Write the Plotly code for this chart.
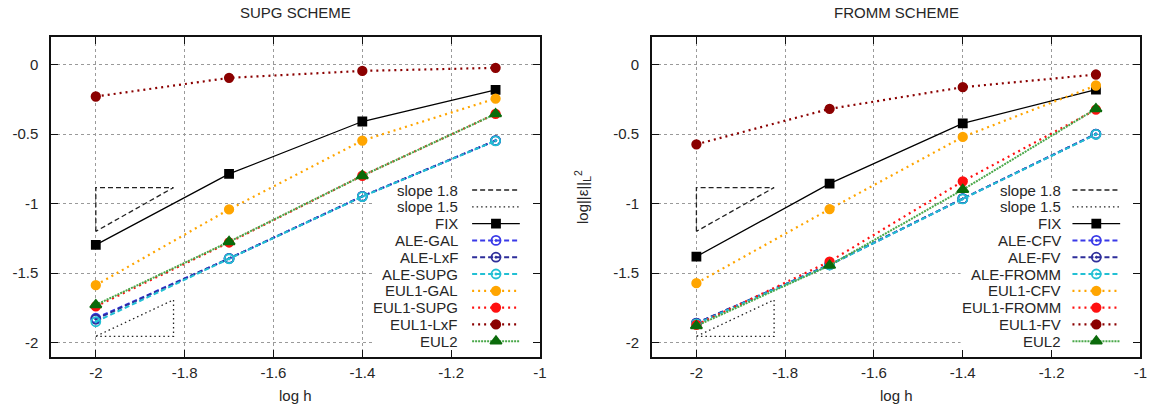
import plotly.graph_objects as go

# ---------------- data ----------------
log_h = [-2.0, -1.7, -1.4, -1.1]

supg_labels = ["FIX", "ALE-GAL", "ALE-LxF", "ALE-SUPG", "EUL1-GAL", "EUL1-SUPG", "EUL1-LxF", "EUL2"]
supg_fix = [-1.297, -0.787, -0.410, -0.182]
supg_ale_gal = [-1.825, -1.395, -0.948, -0.547]
supg_ale_lxf = [-1.832, -1.395, -0.948, -0.547]
supg_ale_supg = [-1.850, -1.397, -0.950, -0.549]
supg_eul1_gal = [-1.587, -1.042, -0.547, -0.245]
supg_eul1_supg = [-1.740, -1.280, -0.800, -0.355]
supg_eul1_lxf = [-0.230, -0.096, -0.046, -0.024]
supg_eul2 = [-1.729, -1.275, -0.800, -0.355]

fromm_labels = ["FIX", "ALE-CFV", "ALE-FV", "ALE-FROMM", "EUL1-CFV", "EUL1-FROMM", "EUL1-FV", "EUL2"]
fromm_fix = [-1.381, -0.857, -0.423, -0.180]
fromm_ale_cfv = [-1.860, -1.440, -0.965, -0.500]
fromm_ale_fv = [-1.860, -1.440, -0.965, -0.500]
fromm_ale_fromm = [-1.865, -1.442, -0.967, -0.502]
fromm_eul1_cfv = [-1.573, -1.040, -0.521, -0.151]
fromm_eul1_fromm = [-1.873, -1.417, -0.840, -0.324]
fromm_eul1_fv = [-0.574, -0.319, -0.163, -0.072]
fromm_eul2 = [-1.880, -1.445, -0.900, -0.319]

slope_labels = ["slope 1.8", "slope 1.5"]
slope_values = [1.8, 1.5]
slope_anchor_x = -2.0
slope_run = 0.175
slope18_top_y = -0.885
slope15_bottom_y = -1.955

x_tick_vals = [-2.0, -1.8, -1.6, -1.4, -1.2, -1.0]
x_tick_text = ["-2", "-1.8", "-1.6", "-1.4", "-1.2", "-1"]
y_tick_vals = [0.0, -0.5, -1.0, -1.5, -2.0]
y_tick_text = ["0", "-0.5", "-1", "-1.5", "-2"]

titles = ["SUPG SCHEME", "FROMM SCHEME"]
x_title = "log h"
y_title = "log||ε||<sub>L</sub><sup>2</sup>"

# ---------------- styles ----------------
W, H = 1153, 405
FONT = "Liberation Sans, Arial, sans-serif"
FS = 15
TFS = 15
TXT = "#262626"

styles = [
    dict(color="#000000", dash="solid", width=1.3, symbol="square", msize=8, mcolor="#000000"),
    dict(color="#3a3ae8", dash="5px,3px", width=2, symbol="circle-open-dot", msize=9, mcolor="#3a3ae8"),
    dict(color="#2e2e9a", dash="5px,3px", width=2, symbol="circle-open-dot", msize=9, mcolor="#2e2e9a"),
    dict(color="#22c0d4", dash="5px,3px", width=2, symbol="circle-open-dot", msize=9, mcolor="#22c0d4"),
    dict(color="#ffa500", dash="2px,4px", width=2.2, symbol="circle", msize=8.5, mcolor="#ffa500"),
    dict(color="#ff1010", dash="2px,4px", width=2.2, symbol="circle", msize=8.5, mcolor="#ff1010"),
    dict(color="#8b0000", dash="2px,4px", width=2.2, symbol="circle", msize=8.5, mcolor="#8b0000"),
    dict(color="#4aa84a", dash="2px,1px", width=2, symbol="triangle-up", msize=10, mcolor="#0b6b0b"),
]
slope_styles = [dict(color="#222222", dash="5px,3px", width=1.3),
                dict(color="#222222", dash="1.5px,3px", width=1.3)]

panels = [
    dict(xa="x", ya="y", labels=supg_labels,
         series=[supg_fix, supg_ale_gal, supg_ale_lxf, supg_ale_supg,
                 supg_eul1_gal, supg_eul1_supg, supg_eul1_lxf, supg_eul2],
         xdom=(51.7, 543.3), key_text_x=463, key_s0=475, key_s1=523, key_box_x0=-1.378),
    dict(xa="x2", ya="y2", labels=fromm_labels,
         series=[fromm_fix, fromm_ale_cfv, fromm_ale_fv, fromm_ale_fromm,
                 fromm_eul1_cfv, fromm_eul1_fromm, fromm_eul1_fv, fromm_eul2],
         xdom=(656.0, 1147.3), key_text_x=1069, key_s0=1079, key_s1=1127, key_box_x0=-1.405),
]
ydom_px = (36.7, 356.5)
key_row0 = 190.0
key_dy = 16.8

fig = go.Figure()
annotations = []
shapes = []

for p in panels:
    # white key background: hides the grid, kept under the curves
    shapes.append(dict(type="rect", xref=p["xa"], yref=p["ya"], layer="between",
                       x0=p["key_box_x0"], x1=-1.012, y0=-2.06, y1=-0.84,
                       fillcolor="white", line=dict(width=0)))
    # slope triangles
    x0 = slope_anchor_x
    x1 = slope_anchor_x + slope_run
    tri18_x = [x0, x0, x1, x0]
    tri18_y = [slope18_top_y - slope_values[0] * slope_run, slope18_top_y, slope18_top_y,
               slope18_top_y - slope_values[0] * slope_run]
    tri15_x = [x0, x1, x1, x0]
    tri15_y = [slope15_bottom_y, slope15_bottom_y, slope15_bottom_y + slope_values[1] * slope_run,
               slope15_bottom_y]
    for (tx, ty), st, lab in zip([(tri18_x, tri18_y), (tri15_x, tri15_y)], slope_styles, slope_labels):
        fig.add_trace(go.Scatter(x=tx, y=ty, mode="lines", name=lab, showlegend=False,
                                 line=dict(color=st["color"], dash=st["dash"], width=st["width"]),
                                 xaxis=p["xa"], yaxis=p["ya"], hoverinfo="skip"))
    for vals, st, lab in zip(p["series"], styles, p["labels"]):
        fig.add_trace(go.Scatter(x=log_h, y=vals, mode="lines+markers", name=lab, showlegend=False,
                                 line=dict(color=st["color"], dash=st["dash"], width=st["width"]),
                                 marker=dict(symbol=st["symbol"], size=st["msize"], color=st["mcolor"],
                                             line=dict(color=st["mcolor"], width=1.8)),
                                 xaxis=p["xa"], yaxis=p["ya"]))

    # gnuplot-style key (text on the left, sample on the right) on a pixel overlay axis
    all_labels = slope_labels + p["labels"]
    all_styles = slope_styles + styles
    for i, (lab, st) in enumerate(zip(all_labels, all_styles)):
        ry = key_row0 + key_dy * i
        annotations.append(dict(x=p["key_text_x"], y=ry, xref="x3", yref="y3", text=lab,
                                showarrow=False, xanchor="right", yanchor="middle",
                                font=dict(family=FONT, size=FS, color=TXT)))
        fig.add_trace(go.Scatter(x=[p["key_s0"], p["key_s1"]], y=[ry, ry], mode="lines",
                                 line=dict(color=st["color"], dash=st["dash"], width=st["width"]),
                                 xaxis="x3", yaxis="y3", showlegend=False, hoverinfo="skip"))
        if "symbol" in st:
            fig.add_trace(go.Scatter(x=[(p["key_s0"] + p["key_s1"]) / 2], y=[ry], mode="markers",
                                     marker=dict(symbol=st["symbol"], size=st["msize"], color=st["mcolor"],
                                                 line=dict(color=st["mcolor"], width=1.8)),
                                     xaxis="x3", yaxis="y3", showlegend=False, hoverinfo="skip"))

axis_common = dict(showline=True, linecolor="#111111", linewidth=2, mirror="allticks",
                   ticks="inside", ticklen=7, tickwidth=1.2, tickcolor="#111111",
                   showgrid=True, gridcolor="#9a9a9a", griddash="dot", gridwidth=1,
                   zeroline=False, tickfont=dict(family=FONT, size=FS, color=TXT),
                   fixedrange=True)

ydom = [1 - ydom_px[1] / H, 1 - ydom_px[0] / H]
layout = dict(width=W, height=H, margin=dict(l=0, r=0, t=0, b=0),
              paper_bgcolor="white", plot_bgcolor="rgba(0,0,0,0)", showlegend=False)
for k, p in enumerate(panels):
    xd = [p["xdom"][0] / W, p["xdom"][1] / W]
    xk = "xaxis" if k == 0 else "xaxis2"
    yk = "yaxis" if k == 0 else "yaxis2"
    layout[xk] = dict(domain=xd, range=[-2.1, -1.0], anchor=p["ya"], tickvals=x_tick_vals,
                      ticktext=x_tick_text, ticklabelstandoff=1, **axis_common)
    layout[yk] = dict(domain=ydom, range=[-2.1, 0.2], anchor=p["xa"], tickvals=y_tick_vals,
                      ticktext=y_tick_text, ticklabelstandoff=8, **axis_common)
    cx = (p["xdom"][0] + p["xdom"][1]) / 2 / W
    annotations.append(dict(x=cx, y=1 - 12.5 / H, xref="paper", yref="paper", text=titles[k],
                            showarrow=False, xanchor="center", yanchor="middle",
                            font=dict(family=FONT, size=TFS, color=TXT)))
    annotations.append(dict(x=cx, y=1 - 395.5 / H, xref="paper", yref="paper", text=x_title,
                            showarrow=False, xanchor="center", yanchor="middle",
                            font=dict(family=FONT, size=FS, color=TXT)))
annotations.append(dict(x=586 / W, y=1 - 196.6 / H, xref="paper", yref="paper", text=y_title,
                        showarrow=False, xanchor="center", yanchor="middle", textangle=-90,
                        font=dict(family=FONT, size=FS, color=TXT)))

layout["xaxis3"] = dict(domain=[0, 1], range=[0, W], anchor="y3", visible=False, fixedrange=True)
layout["yaxis3"] = dict(domain=[0, 1], range=[H, 0], anchor="x3", visible=False, fixedrange=True)
layout["annotations"] = annotations
layout["shapes"] = shapes

fig.update_layout(**layout)
fig.write_html("out.html")
